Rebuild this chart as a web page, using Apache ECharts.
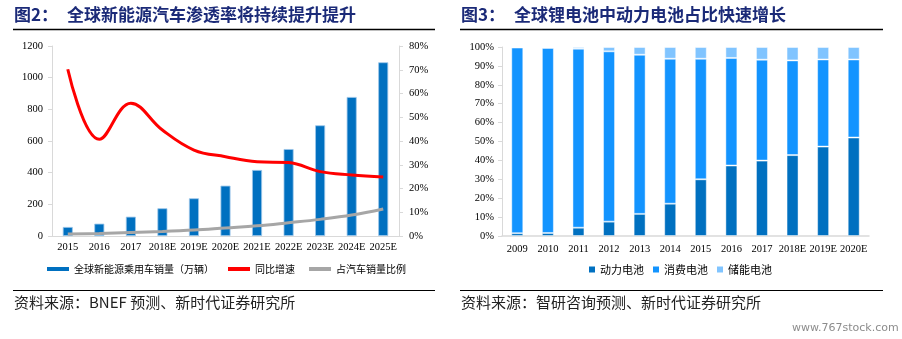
<!DOCTYPE html>
<html lang="zh-CN">
<head>
<meta charset="utf-8">
<script src="https://cdn.jsdelivr.net/npm/echarts@6/dist/echarts.min.js"></script>
<style>
  html, body { margin: 0; padding: 0; background: #fff; }
  #container { width: 902px; height: 339px; }
</style>
</head>
<body>
<div id="container"></div>
<script>
// 图2: global NEV sales + growth + penetration
const years2 = ['2015', '2016', '2017', '2018E', '2019E', '2020E', '2021E', '2022E', '2023E', '2024E', '2025E'];
const salesVolume = [57, 78, 122, 175, 238, 318, 417, 549, 699, 878, 1097];
const yoyGrowth = [70.2, 40.7, 55.9, 44.6, 36.2, 33.4, 31.3, 30.9, 27.1, 25.7, 24.8];
const penetration = [0.8, 1.1, 1.5, 1.9, 2.5, 3.4, 4.3, 5.6, 7.0, 8.8, 11.4];

// 图3: share of lithium battery demand by use
const years3 = ['2009', '2010', '2011', '2012', '2013', '2014', '2015', '2016', '2017', '2018E', '2019E', '2020E'];
const powerShare = [1.5, 1.6, 4.4, 7.6, 11.7, 17.1, 30.0, 37.3, 39.9, 42.8, 47.3, 52.1];
const consumerShare = [98.2, 97.9, 94.7, 90.1, 84.2, 76.7, 63.8, 56.9, 53.4, 50.1, 46.1, 41.3];
const storageShare = [0.3, 0.5, 0.9, 2.3, 4.1, 6.2, 6.2, 5.8, 6.7, 7.1, 6.6, 6.6];

const serif = '"Liberation Serif", "Times New Roman", serif';
const cjk = '"Noto Sans CJK SC", sans-serif';
const navy = '#1b2a78';
const axisGray = '#d9d9d9';

const chart = echarts.init(document.getElementById('container'), null, { renderer: 'canvas' });

const axisLabel = { fontFamily: serif, fontSize: 10.5, color: '#000' };
const titleStyle = { color: navy, fontFamily: cjk, fontSize: 17, fontWeight: 'bold' };

const option = {
  animation: false,
  title: [
    { text: '图2：', left: 14, top: 6, padding: 0, textStyle: titleStyle },
    { text: '全球新能源汽车渗透率将持续提升提升', left: 67, top: 6, padding: 0, textStyle: titleStyle },
    { text: '图3：', left: 461, top: 6, padding: 0, textStyle: titleStyle },
    { text: '全球锂电池中动力电池占比快速增长', left: 514, top: 6, padding: 0, textStyle: titleStyle }
  ],
  graphic: [
    { type: 'line', shape: { x1: 13, y1: 29.5, x2: 435, y2: 29.5 }, style: { stroke: '#000', lineWidth: 1.5 } },
    { type: 'line', shape: { x1: 460, y1: 29.5, x2: 883, y2: 29.5 }, style: { stroke: '#000', lineWidth: 1.5 } },
    { type: 'line', shape: { x1: 13, y1: 290.5, x2: 435, y2: 290.5 }, style: { stroke: '#000', lineWidth: 1.2 } },
    { type: 'line', shape: { x1: 460, y1: 290.5, x2: 883, y2: 290.5 }, style: { stroke: '#000', lineWidth: 1.2 } },
    { type: 'text', left: 14, top: 295, style: { text: '资料来源：BNEF 预测、新时代证券研究所', font: '15px ' + cjk, fill: '#222' } },
    { type: 'text', left: 461, top: 295, style: { text: '资料来源：智研咨询预测、新时代证券研究所', font: '15px ' + cjk, fill: '#222' } },
    { type: 'text', left: 792, top: 323, style: { text: 'www.767stock.com', font: '11px "DejaVu Sans", sans-serif', fill: '#8c8c8c' } }
  ],
  legend: [
    {
      left: 47, top: 264, padding: 0, itemGap: 14, itemWidth: 22, itemHeight: 4, icon: 'rect',
      itemStyle: { borderWidth: 0 },
      textStyle: { fontFamily: cjk, fontSize: 10, color: '#000' },
      data: ['全球新能源乘用车销量（万辆）', '同比增速', '占汽车销量比例']
    },
    {
      left: 589, top: 264, padding: 0, itemGap: 9, itemWidth: 6, itemHeight: 6, icon: 'rect',
      itemStyle: { borderWidth: 0 },
      textStyle: { fontFamily: cjk, fontSize: 11, color: '#000' },
      data: ['动力电池', '消费电池', '储能电池']
    }
  ],
  grid: [
    { left: 52, right: 503, top: 46, bottom: 103 },
    { left: 502, right: 33, top: 47, bottom: 103 }
  ],
  xAxis: [
    {
      type: 'category', gridIndex: 0, data: years2,
      axisLine: { lineStyle: { color: axisGray } }, axisTick: { show: false },
      axisLabel: Object.assign({ margin: 6, interval: 0 }, axisLabel)
    },
    {
      type: 'category', gridIndex: 1, data: years3,
      axisLine: { lineStyle: { color: axisGray, width: 1.5 } }, axisTick: { show: false },
      axisLabel: Object.assign({ margin: 8, interval: 0 }, axisLabel)
    }
  ],
  yAxis: [
    {
      type: 'value', gridIndex: 0, min: 0, max: 1200, interval: 200,
      axisLine: { show: true, lineStyle: { color: axisGray } },
      axisTick: { show: true, length: 4, lineStyle: { color: axisGray } },
      splitLine: { show: false },
      axisLabel: Object.assign({ margin: 9, formatter: v => String(v) }, axisLabel)
    },
    {
      type: 'value', gridIndex: 0, position: 'right', min: 0, max: 80, interval: 10,
      axisLine: { show: true, lineStyle: { color: axisGray } },
      axisTick: { show: true, length: 4, lineStyle: { color: axisGray } },
      splitLine: { show: false },
      axisLabel: Object.assign({ margin: 10, formatter: '{value}%' }, axisLabel)
    },
    {
      type: 'value', gridIndex: 1, min: 0, max: 100, interval: 10,
      axisLine: { show: true, lineStyle: { color: axisGray } },
      axisTick: { show: true, length: 4, lineStyle: { color: axisGray } },
      splitLine: { show: false },
      axisLabel: Object.assign({ margin: 8, formatter: '{value}%' }, axisLabel)
    }
  ],
  series: [
    {
      name: '全球新能源乘用车销量（万辆）', type: 'bar', xAxisIndex: 0, yAxisIndex: 0,
      data: salesVolume, barWidth: 10,
      itemStyle: { color: '#0070c0', borderColor: '#9cc6ea', borderWidth: 0.8 }
    },
    {
      name: '同比增速', type: 'line', xAxisIndex: 0, yAxisIndex: 1,
      data: yoyGrowth, smooth: 0.4, showSymbol: false, symbol: 'none',
      itemStyle: { color: '#ff0000' }, lineStyle: { color: '#ff0000', width: 3 }
    },
    {
      name: '占汽车销量比例', type: 'line', xAxisIndex: 0, yAxisIndex: 1,
      data: penetration, smooth: 0.4, showSymbol: false, symbol: 'none',
      itemStyle: { color: '#a6a6a6' }, lineStyle: { color: '#a6a6a6', width: 3 }
    },
    {
      name: '动力电池', type: 'bar', stack: 'share', xAxisIndex: 1, yAxisIndex: 2,
      data: powerShare, barWidth: 12,
      itemStyle: { color: '#0070c0', borderColor: 'rgba(255,255,255,0.45)', borderWidth: 1 }
    },
    {
      name: '消费电池', type: 'bar', stack: 'share', xAxisIndex: 1, yAxisIndex: 2,
      data: consumerShare, barWidth: 12,
      itemStyle: { color: '#1394ff', borderColor: 'rgba(255,255,255,0.45)', borderWidth: 1 }
    },
    {
      name: '储能电池', type: 'bar', stack: 'share', xAxisIndex: 1, yAxisIndex: 2,
      data: storageShare, barWidth: 12,
      itemStyle: { color: '#80c4ff', borderColor: 'rgba(255,255,255,0.45)', borderWidth: 1 }
    }
  ]
};

chart.setOption(option);
window.addEventListener('resize', chart.resize);
</script>
</body>
</html>
